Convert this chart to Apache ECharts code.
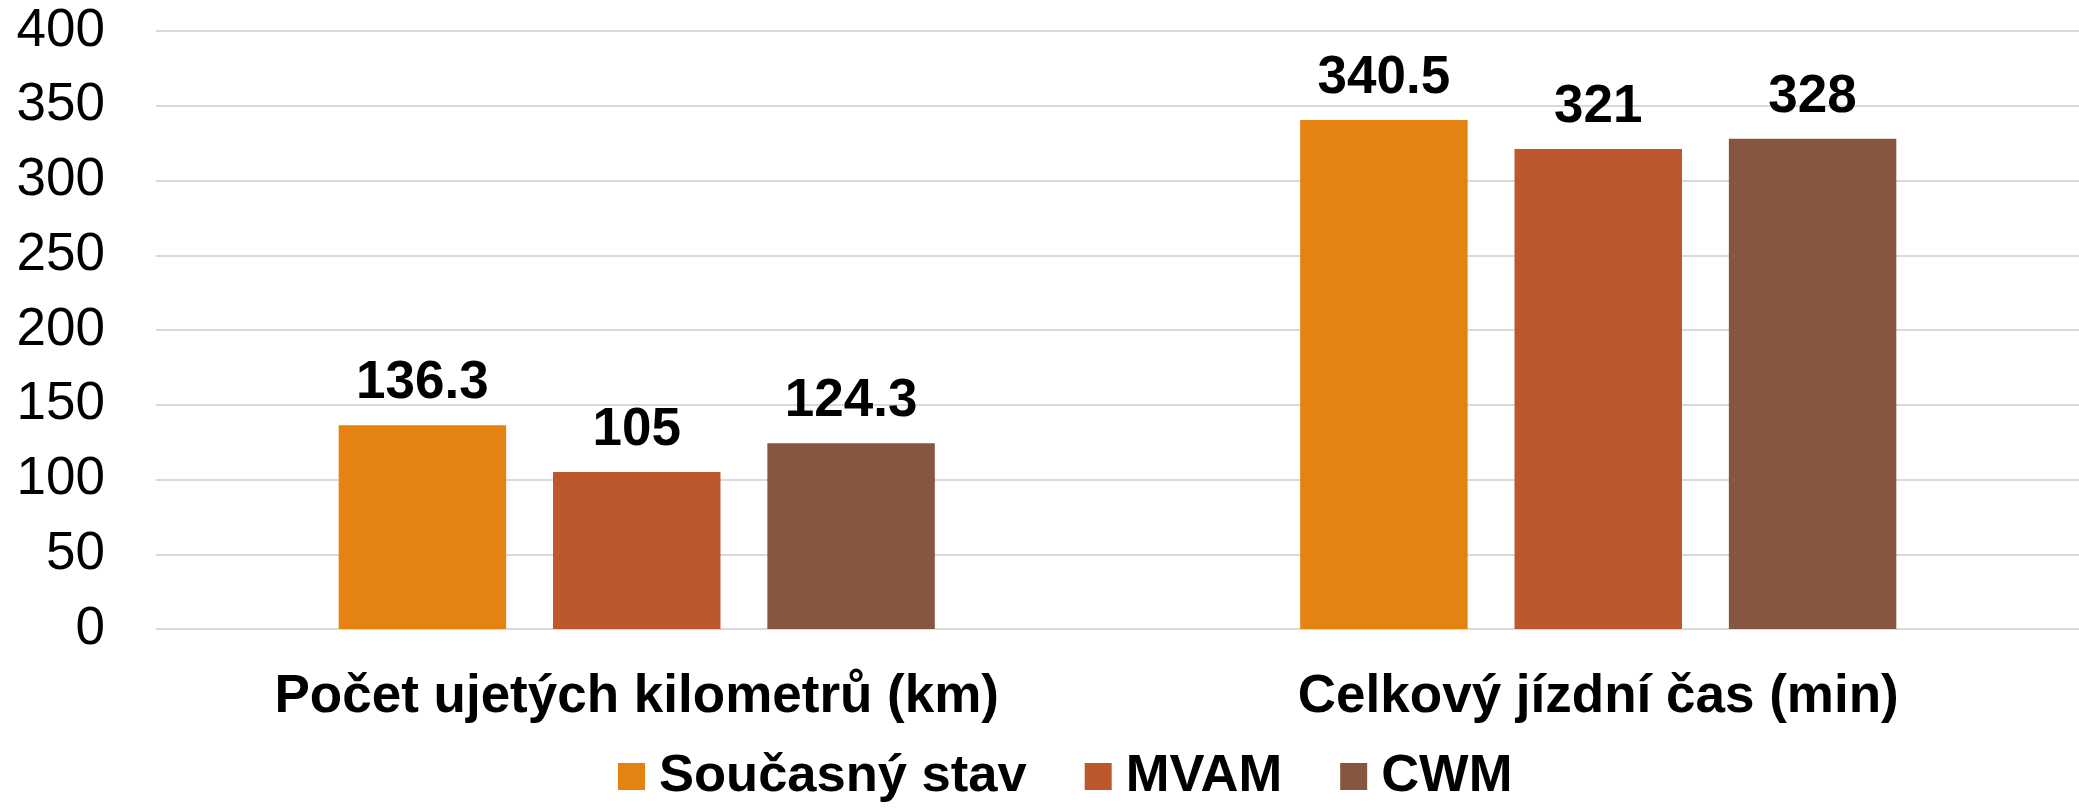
<!DOCTYPE html>
<html>
<head>
<meta charset="utf-8">
<script src="https://cdn.jsdelivr.net/npm/echarts@6/dist/echarts.min.js"></script>
<style>html,body{margin:0;padding:0;background:#fff}#c{width:2079px;height:808px}</style>
</head>
<body>
<div id="c"></div>
<script>
const categories = ['Počet ujetých kilometrů (km)', 'Celkový jízdní čas (min)'];
const seriesNames = ['Současný stav', 'MVAM', 'CWM'];
const soucasny = [136.3, 340.5];
const mvam = [105, 321];
const cwm = [124.3, 328];
const colors = ['#E58312', '#BD582C', '#865640'];
const FONT = "'Liberation Sans', Arial, sans-serif";

const chart = echarts.init(document.getElementById('c'), null, {renderer: 'canvas'});
const values = [soucasny, mvam, cwm];
chart.setOption({
  animation: false,
  backgroundColor: '#fff',
  grid: {left: 156, right: -1, top: 31, bottom: 179},
  legend: {
    left: 613, top: 745,
    itemWidth: 27, itemHeight: 27, itemGap: 58,
    icon: 'rect',
    textStyle: {fontFamily: FONT, fontSize: 52.5, fontWeight: 'bold', color: '#000', padding: [0, 0, 0, 9]},
    data: seriesNames
  },
  xAxis: {
    type: 'category', data: categories,
    axisLine: {show: false}, axisTick: {show: false},
    axisLabel: {fontFamily: FONT, fontSize: 53, fontWeight: 'bold', color: '#000', margin: 42}
  },
  yAxis: {
    type: 'value', min: 0, max: 400, interval: 50,
    axisLine: {show: false}, axisTick: {show: false},
    axisLabel: {fontFamily: FONT, fontSize: 53, color: '#000', margin: 51},
    splitLine: {lineStyle: {color: '#D9D9D9', width: 2}}
  },
  series: seriesNames.map((n, i) => ({
    name: n, type: 'bar', data: values[i],
    barGap: '28%', barCategoryGap: '38%',
    itemStyle: {color: colors[i]},
    label: {show: true, position: 'top', distance: 15, fontFamily: FONT, fontSize: 53, fontWeight: 'bold', color: '#000'}
  }))
});
</script>
</body>
</html>
